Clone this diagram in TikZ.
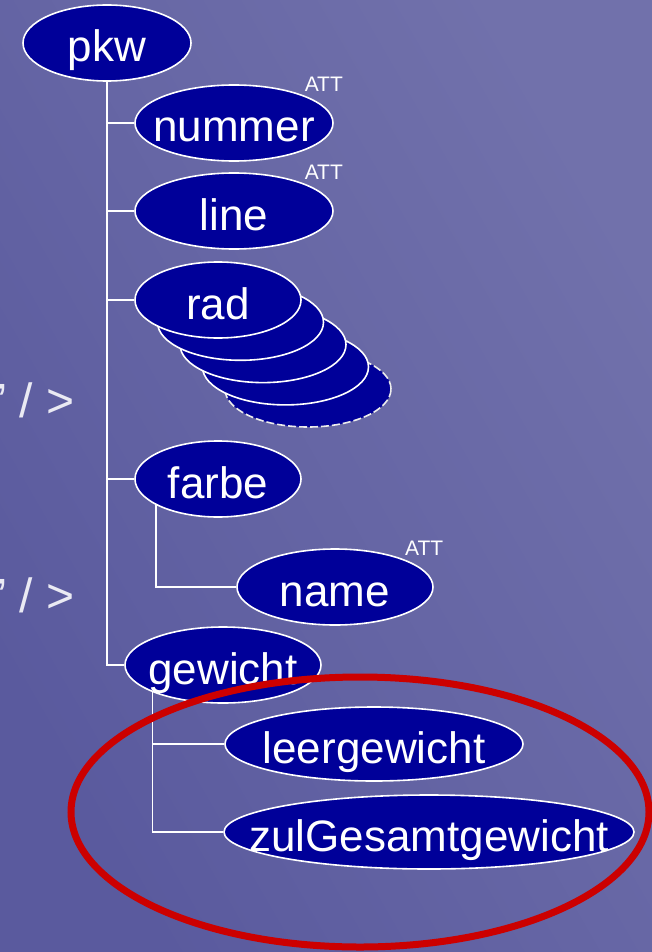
\documentclass[tikz,border=0pt]{standalone}
\usepackage{fontspec}
\setmainfont{Liberation Sans}
\usetikzlibrary{shapes.geometric}

\definecolor{navy}{RGB}{0,0,153}
\definecolor{bglight}{RGB}{113,113,171}
\definecolor{bgdark}{RGB}{90,90,158}
\definecolor{hired}{RGB}{204,0,0}

\newcommand{\elfont}{\fontsize{44}{48}\selectfont}
\newcommand{\attfont}{\fontsize{21}{24}\selectfont}
\newcommand{\fragfont}{\fontsize{48}{52}\selectfont}

\begin{document}
\begin{tikzpicture}[x=1pt,y=-1pt] % координаты в пикселях, y вниз
\tikzstyle{elem} = [ellipse, draw=white, line width=1.6pt, fill=navy, text=white, font=\elfont, inner sep=0pt, minimum height=76, text height=38pt, text depth=0pt] % element node style
\tikzstyle{att} = [font=\attfont, text=white, inner sep=0pt, yshift=4pt] % пометка атрибута
\tikzstyle{branch} = [draw=white, line width=1.6pt] % connector lines
\tikzstyle{frag} = [font=\fragfont, text=white!85!bglight, inner sep=0pt, anchor=base west]
\tikzstyle{hilite} = [draw=hired, line width=7pt] % красный овал

\useasboundingbox (0,0) rectangle (652,952);
\shade[top color=bglight, middle color=bglight, bottom color=bgdark, shading angle=-60] (0,0) rectangle (652,952);
\clip (0,0) rectangle (652,952);

% обрывки текста слева
\node[frag] (frag1) at (-10,417) {\symbol{34} / >};
\node[frag] (frag2) at (-10,612) {\symbol{34} / >};

\node[elem, minimum width=168] (pkw) at (107,43) {\makebox[0pt]{pkw}};
\node[elem, minimum width=198, label={[att]north east:ATT}] (nummer) at (234,123) {\makebox[0pt]{nummer}};
\node[elem, minimum width=198, label={[att]north east:ATT}] (line) at (234,211) {\makebox[0pt]{line}};

% стопка rad
\node[elem, minimum width=166, draw=white!85!gray, dash pattern=on 8pt off 3pt] (rad4) at (308,389) {};
\foreach \k in {3,2,1}
    \node[elem, minimum width=166] (rad\k) at ({218+22.5*\k},{300+22.3*\k}) {};
\node[elem, minimum width=166] (rad) at (218,300) {\makebox[0pt]{rad}};

\node[elem, minimum width=166] (farbe) at (218,479) {\makebox[0pt]{farbe}};
\node[elem, minimum width=196, label={[att]north east:ATT}] (name) at (335,587) {\makebox[0pt]{name}};
\node[elem, minimum width=196] (gewicht) at (223,665) {\makebox[0pt]{gewicht}};
\node[elem, minimum width=298, minimum height=74] (leer) at (374,744) {\makebox[0pt]{leergewicht}};
\node[elem, minimum width=410, minimum height=74] (zul) at (429,832) {\makebox[0pt]{zulGesamtgewicht}};

% ветви дерева
\foreach \c in {nummer,line,rad,farbe,gewicht}
    \path[branch] (pkw.south) |- (\c.west);
\path[branch] (farbe.203) |- (name.west);
\path[branch] (gewicht.201) |- (leer.west);
\path[branch] (gewicht.201) |- (zul.west);

\draw[hilite] (360,812) ellipse [x radius=289, y radius=135];
\end{tikzpicture}
\end{document}
